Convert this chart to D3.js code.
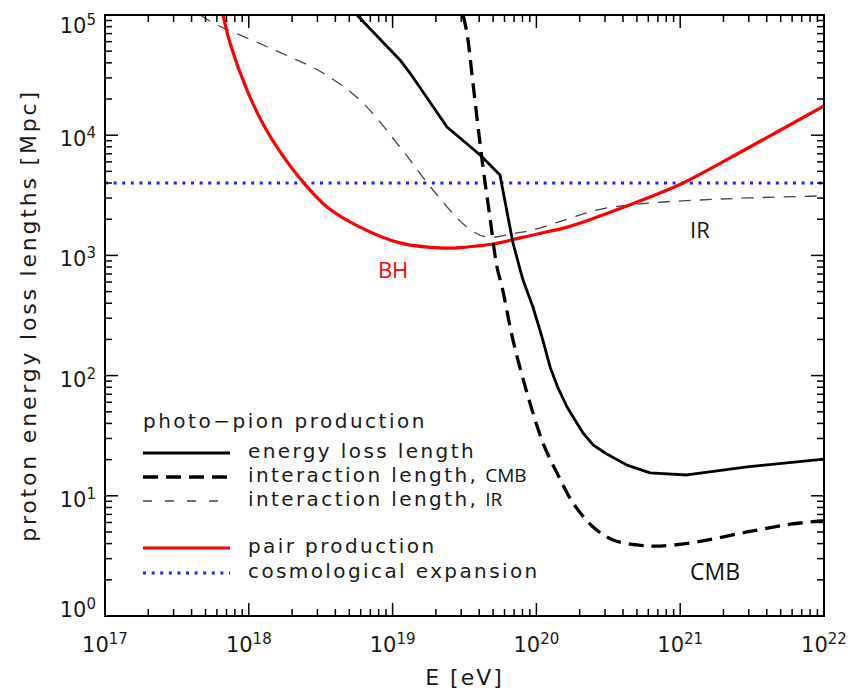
<!DOCTYPE html>
<html><head><meta charset="utf-8">
<script src="https://cdn.jsdelivr.net/npm/d3@7"></script>
<style>
body{margin:0;background:#fff}
svg{display:block}
.idl{font-family:"DejaVu Sans",sans-serif;fill:#1a1a1a}
.cal{font-family:"Open Sans",sans-serif}
</style>
</head><body>
<svg id="c" width="851" height="691"></svg>
<script>
// ---------- data ----------
const xTickExps = [17, 18, 19, 20, 21, 22];
const yTickExps = [0, 1, 2, 3, 4, 5];

// photo-pion energy loss length (solid black)
const lossE = [5.65e18, 1.125e19, 1.321e19, 2.39e19, 4.06e19, 5.58e19, 6.87e19, 8.07e19, 9.46e19, 1.094e20, 1.245e20, 1.413e20, 1.633e20, 1.854e20, 2.11e20, 2.48e20, 3.00e20, 4.27e20, 6.17e20, 1.114e21, 2.92e21, 1e22];
const lossL = [1e5, 42300, 32900, 11700, 6840, 4670, 1270, 624, 372, 209, 118, 78.9, 54.8, 42.8, 33.3, 26.5, 22.7, 18.0, 15.5, 14.9, 17.4, 20.2];

// interaction length, CMB (thick dashed)
const cmbE = [3.09e19, 3.29e19, 3.62e19, 4.19e19, 4.75e19, 5.32e19, 5.77e19, 6.87e19, 8.61e19, 1.112e20, 1.39e20, 1.80e20, 2.48e20, 3.41e20, 5.01e20, 7.24e20, 1.309e21, 2.92e21, 5.81e21, 1e22];
const cmbL = [1e5, 70800, 27200, 6220, 2090, 800, 546, 198, 71.6, 27.5, 15.5, 8.71, 5.50, 4.29, 3.90, 3.82, 4.13, 5.00, 5.8, 6.2];

// interaction length, IR (thin dashed)
const irE = [4.58e17, 6.01e17, 9.70e17, 1.936e18, 3.28e18, 5.93e18, 1.125e19, 1.91e19, 3.29e19, 4.53e19, 7.33e19, 9.46e19, 1.633e20, 2.77e20, 6.17e20, 1.374e21, 3.05e21, 8.93e21, 1e22];
const irL = [1e5, 82600, 64400, 44800, 32900, 19600, 7980, 3500, 1720, 1420, 1540, 1630, 2000, 2420, 2730, 2890, 3010, 3120, 3150];

// pair production (red)
const pairE = [6.62e17, 7.40e17, 9.70e17, 1.256e18, 1.648e18, 2.38e18, 3.50e18, 5.93e18, 1.125e19, 2.24e19, 3.29e19, 4.99e19, 9.46e19, 1.633e20, 2.77e20, 6.17e20, 1.047e21, 3.05e21, 1e22];
const pairL = [1e5, 58500, 23800, 12400, 7300, 4080, 2530, 1720, 1270, 1150, 1175, 1245, 1480, 1720, 2130, 3060, 4000, 7980, 17500];

// cosmological expansion (blue dotted)
const cosmoE = [1e17, 1e22];
const cosmoL = [4000, 4000];

const legendTitle = "photo\u2212pion production";
const legendMain = ["energy loss length", "interaction length,", "interaction length,", "pair production", "cosmological expansion"];
const legendSuffix = ["", "CMB", "IR", "", ""];

const annoText = ["BH", "IR", "CMB"];
const annoE = [7.9e18, 1.17e21, 1.17e21];
const annoL = [650, 1400, 1.99];

const xTitle = "E [eV]";
const yTitle = "proton energy loss lengths [Mpc]";

// ---------- layout ----------
const W = 851, H = 691;
const M = {l: 105, t: 15, r: 27, b: 75};
const svg = d3.select("#c");
const x = d3.scaleLog().domain([1e17, 1e22]).range([M.l, W - M.r]);
const y = d3.scaleLog().domain([1, 1e5]).range([H - M.b, M.t]);
const X0 = x.range()[0], X1 = x.range()[1], Y0 = y.range()[0], Y1 = y.range()[1];

svg.append("defs").append("clipPath").attr("id", "clip")
  .append("rect").attr("x", X0).attr("y", Y1).attr("width", X1 - X0).attr("height", Y0 - Y1);

const zip = (a, b) => a.map((v, i) => [v, b[i]]);
const lineSmooth = d3.line().x(d => x(d[0])).y(d => y(d[1])).curve(d3.curveCatmullRom.alpha(0.5));
const lineLin = d3.line().x(d => x(d[0])).y(d => y(d[1]));

const g = svg.append("g").attr("clip-path", "url(#clip)");

const styles = {
  loss:  {stroke: "#000", w: 2.8, dash: null},
  cmb:   {stroke: "#000", w: 3.3, dash: "15,8"},
  ir:    {stroke: "#444", w: 1.3, dash: "12,9"},
  pair:  {stroke: "#ff0000", w: 3.2, dash: null},
  cosmo: {stroke: "#1f1fff", w: 3, dash: "3,5.6"}
};

function draw(data, st, gen) {
  g.append("path").attr("d", gen(data)).attr("fill", "none")
    .attr("stroke", st.stroke).attr("stroke-width", st.w)
    .attr("stroke-dasharray", st.dash).attr("stroke-linejoin", "round");
}
draw(zip(cosmoE, cosmoL), styles.cosmo, lineLin);
draw(zip(irE, irL), styles.ir, lineSmooth);
draw(zip(pairE, pairL), styles.pair, lineSmooth);
draw(zip(cmbE, cmbL), styles.cmb, lineSmooth);
draw(zip(lossE, lossL), styles.loss, lineLin);

// ---------- axes ----------
const isMajor = v => Math.abs(Math.log10(v) - Math.round(Math.log10(v))) < 1e-6;
const ax = svg.append("g").attr("stroke", "#000").attr("stroke-width", 1.5);
x.ticks().forEach(v => {
  const L = isMajor(v) ? 13 : 7, px = x(v);
  ax.append("line").attr("x1", px).attr("x2", px).attr("y1", Y0).attr("y2", Y0 - L);
  ax.append("line").attr("x1", px).attr("x2", px).attr("y1", Y1).attr("y2", Y1 + L);
});
y.ticks().forEach(v => {
  const L = isMajor(v) ? 13 : 7, py = y(v);
  ax.append("line").attr("x1", X0).attr("x2", X0 + L).attr("y1", py).attr("y2", py);
  ax.append("line").attr("x1", X1).attr("x2", X1 - L).attr("y1", py).attr("y2", py);
});
svg.append("rect").attr("x", X0).attr("y", Y1).attr("width", X1 - X0).attr("height", Y0 - Y1)
  .attr("fill", "none").attr("stroke", "#000").attr("stroke-width", 2);

// tick labels
xTickExps.forEach(e => {
  const t = svg.append("text").attr("class", "idl").attr("x", x(Math.pow(10, e))).attr("y", Y0 + 36)
    .attr("text-anchor", "middle").attr("font-size", 21);
  t.append("tspan").text("10");
  t.append("tspan").attr("font-size", 15).attr("dy", -8).text(e);
});
yTickExps.forEach(e => {
  const base = Math.max(Y1 + 18, Math.min(Y0 + 1, y(Math.pow(10, e)) + 11));
  const t = svg.append("text").attr("class", "idl").attr("x", X0 - 9).attr("y", base)
    .attr("text-anchor", "end").attr("font-size", 21);
  t.append("tspan").text("10");
  t.append("tspan").attr("font-size", 15).attr("dy", -8).text(e);
});

// axis titles
svg.append("text").attr("class", "idl").attr("x", (X0 + X1) / 2).attr("y", 685)
  .attr("text-anchor", "middle").attr("font-size", 22).attr("letter-spacing", 2).text(xTitle);
svg.append("text").attr("class", "idl")
  .attr("transform", `translate(36,${(Y0 + Y1) / 2}) rotate(-90)`)
  .attr("text-anchor", "middle").attr("font-size", 22).attr("letter-spacing", 2.8).text(yTitle);

// annotations
annoText.forEach((s, i) => {
  svg.append("text").attr("class", "cal").attr("x", x(annoE[i])).attr("y", y(annoL[i]))
    .attr("font-size", i === 2 ? 23 : 22).attr("fill", i === 0 ? "#ff0000" : "#111").text(s);
});

// ---------- legend ----------
const LX = 143, LW = 87, TX = 248;
svg.append("text").attr("class", "idl").attr("x", LX).attr("y", 428)
  .attr("font-size", 20).attr("letter-spacing", 2.5).text(legendTitle);
const rowBase = [458, 482, 506, 553, 578];
const rowStyle = [styles.loss, styles.cmb, {stroke: "#444", w: 1.3, dash: "9,13"}, styles.pair, styles.cosmo];
legendMain.forEach((s, i) => {
  const st = rowStyle[i], ly = rowBase[i] - 5;
  svg.append("line").attr("x1", LX).attr("x2", LX + LW).attr("y1", ly).attr("y2", ly)
    .attr("stroke", st.stroke).attr("stroke-width", st.w).attr("stroke-dasharray", st.dash);
  const t = svg.append("text").attr("class", "idl").attr("x", TX).attr("y", rowBase[i])
    .attr("font-size", 20).attr("letter-spacing", 2.4).text(s);
  if (legendSuffix[i]) {
    const bb = t.node().getBBox();
    svg.append("text").attr("class", "cal").attr("x", bb.x + bb.width + 7).attr("y", rowBase[i])
      .attr("font-size", 19).attr("fill", "#111").text(legendSuffix[i]);
  }
});
</script>
</body></html>
